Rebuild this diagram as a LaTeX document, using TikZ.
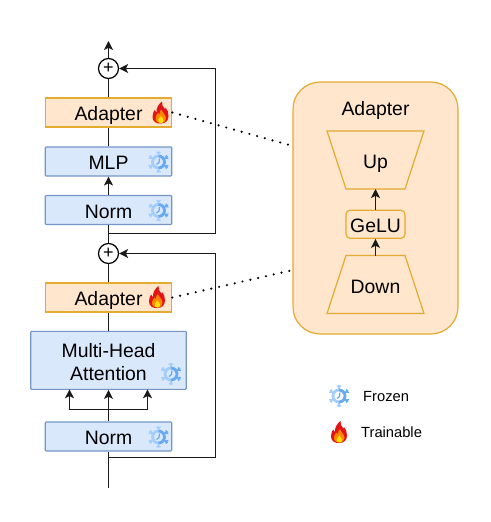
\documentclass[tikz,border=0pt]{standalone}
\usepackage{fontspec}
\setmainfont{Liberation Sans}
\usetikzlibrary{arrows.meta,positioning,calc}
\definecolor{bluefill}{HTML}{DAE8FC}
\definecolor{bluedraw}{HTML}{7396C6}
\definecolor{orfill}{HTML}{FFE6CC}
\definecolor{ordraw}{HTML}{E3AB30}
\definecolor{linecol}{HTML}{1A1A1A}
\definecolor{iceA}{HTML}{A3CDFB}
\definecolor{iceB}{HTML}{66A9F4}
\tikzset{
  x=1pt,y=-1pt,
  conn/.style={draw=linecol,line width=1.4pt},
  arr/.style={conn,-{Stealth[length=9pt,width=9pt,inset=2.2pt]}},
  lab/.style={font=\fontsize{19.4}{23.5}\selectfont,text=black,align=center,inner sep=0pt},
  small/.style={font=\fontsize{14.7}{17}\selectfont,text=black,inner sep=0pt},
  bluebox/.style={draw=bluedraw,fill=bluefill,line width=1.1pt,rounded corners=0.8pt,inner sep=0pt},
  orbox/.style={draw=ordraw,fill=orfill,line width=1.1pt,inner sep=0pt},
  plus/.style={circle,draw=black,fill=white,line width=1.2pt,minimum size=20pt,inner sep=0pt},
  dots/.style={draw=black,line width=2.4pt,line cap=round,dash pattern=on 0pt off 8pt},
  pics/flame/.style={code={
    \fill[red!88!black!92] (0.5,11) .. controls (-4,11.5) and (-8,9) .. (-8,4.5)
      .. controls (-8,1.5) and (-7,-0.5) .. (-6,-2.5) .. controls (-5.5,-1) and (-5,-0.5) .. (-4,0)
      .. controls (-4.5,-4) and (-2,-8.5) .. (1.5,-11) .. controls (1,-8) and (2.5,-6) .. (4,-4)
      .. controls (4.5,-3) and (5,-3) .. (5,-5) .. controls (7,-3) and (8,0) .. (8,3.5)
      .. controls (8,8) and (5,11) .. (0.5,11) -- cycle;
    \fill[orange!95!yellow] (0.5,10.5) .. controls (-3.5,10.5) and (-5.5,8) .. (-5,5)
      .. controls (-4.8,3) and (-3.5,2) .. (-2.5,0.5) .. controls (-2,1.5) and (-1.5,2) .. (-1,2)
      .. controls (-1.5,0) and (0,-2) .. (1,-3) .. controls (1.5,0) and (5.5,2) .. (5.5,6)
      .. controls (5.5,9) and (3.5,10.5) .. (0.5,10.5) -- cycle;
    \fill[yellow!85!orange] (0.5,10.5) .. controls (-2,10.5) and (-3,8.5) .. (-2,6.5)
      .. controls (-1.5,5.5) and (-0.5,5) .. (0.5,3.5) .. controls (1.5,5.5) and (3,6.5) .. (3,8)
      .. controls (3,9.8) and (2,10.5) .. (0.5,10.5) -- cycle;
  }},
  pics/frozen/.style={code={
    \foreach \a/\c in {90/iceA,150/iceA,210/iceA,270/iceA,330/iceB,30/iceB}{
      \draw[\c,line width=1.4pt] (\a:6) -- (\a:10.8);
      \draw[\c,line width=1.2pt] (\a:8) -- ++(\a+40:3);
      \draw[\c,line width=1.2pt] (\a:8) -- ++(\a-40:3);
    }
    \draw[iceA,line width=2.8pt] (90:6) arc[start angle=90,end angle=270,radius=6];
    \draw[iceB,line width=2.8pt] (90:6) arc[start angle=90,end angle=-90,radius=6];
    \draw[iceB,line width=1.2pt] (1,-3.5) -- (0.5,0.5) -- (-2,2.5);
  }}
}
\begin{document}
\begin{tikzpicture}
\useasboundingbox (0,0) rectangle (490,522);
% main stack
\node[orbox,minimum width=126.5pt,minimum height=29pt] (ad1) at (108.5,112.5) {};
\node[lab] at (108.5,115) {Adapter};
\node[bluebox,minimum width=126.5pt,minimum height=29pt] (mlp) at (108.5,161.5) {};
\node[lab] at (108.5,163) {MLP};
\node[bluebox,minimum width=126.5pt,minimum height=29pt] (norm1) at (108.5,210) {};
\node[lab] at (108.5,211.5) {Norm};
\node[plus] (p1) at (108.5,68.5) {};
\node[plus] (p2) at (108.5,253.5) {};
\node[font=\fontsize{18}{18}\selectfont,inner sep=0pt] at (108.5,68.5) {+};
\node[font=\fontsize{18}{18}\selectfont,inner sep=0pt] at (108.5,253.5) {+};
\node[orbox,minimum width=126.5pt,minimum height=29pt] (ad2) at (108.5,297.5) {};
\node[lab] at (108.5,300) {Adapter};
\node[bluebox,minimum width=155.5pt,minimum height=58pt] (mha) at (108.5,360.3) {};
\node[lab] at (108.5,362) {Multi-Head\\Attention};
\node[bluebox,minimum width=126.5pt,minimum height=29pt] (norm2) at (108.5,436.5) {};
\node[lab] at (108.5,438) {Norm};
% free ends and junctions
\coordinate (top) at (108.5,41);
\coordinate (bottom) at (108.5,488);
\coordinate (j1) at (108.5,233.5);
\coordinate (c1) at (215.5,233.5);
\coordinate (c1t) at (215.5,68.5);
\coordinate (j2) at (108.5,457.5);
\coordinate (c2) at (215.5,457.5);
\coordinate (c2t) at (215.5,253.5);
\coordinate (f0) at (108.5,409.5);
\coordinate (fl) at (69.5,409.5);
\coordinate (fr) at (147.5,409.5);
\coordinate (flt) at (69.5,389.3);
\coordinate (frt) at (147.5,389.3);
% vertical connectors
\draw[arr] (p1) -- (top);
\draw[conn] (ad1) -- (p1);
\draw[conn] (mlp) -- (ad1);
\draw[arr] (norm1) -- (mlp);
\draw[conn] (p2) -- (norm1);
\draw[conn] (ad2) -- (p2);
\draw[conn] (mha) -- (ad2);
\draw[arr] (norm2) -- (mha);
\draw[conn] (bottom) -- (norm2);
% residual loops
\draw[arr] (j1) -- (c1) -- (c1t) -- (p1);
\draw[arr] (j2) -- (c2) -- (c2t) -- (p2);
% split
\draw[arr] (f0) -- (fl) -- (flt);
\draw[arr] (f0) -- (fr) -- (frt);
% adapter panel
\node[draw=ordraw,fill=orfill,line width=1.2pt,rounded corners=27pt,minimum width=165pt,minimum height=252pt,inner sep=0pt] (panel) at (375.5,208) {};
\node[lab] (ptitle) at (375.5,110) {Adapter};
\path[draw=ordraw,line width=1.2pt] (327,131) -- (424,131) -- (405,189) -- (346,189) -- cycle;
\node[lab] (up) at (375.5,163.5) {Up};
\coordinate (upb) at (375.5,189);
\path[draw=ordraw,line width=1.2pt] (346,255.5) -- (405,255.5) -- (424,313.5) -- (327,313.5) -- cycle;
\node[lab] (down) at (375.5,287) {Down};
\coordinate (dnt) at (375.5,255.5);
\node[draw=ordraw,fill=orfill,line width=1.2pt,rounded corners=4pt,minimum width=59pt,minimum height=28pt,inner sep=0pt] (gelu) at (375.5,224.3) {};
\node[lab] at (375.5,225.5) {GeLU};
\draw[arr] (dnt) -- (gelu);
\draw[arr] (gelu) -- (upb);
% dotted links
\coordinate (pa) at (294,146.3);
\coordinate (pb) at (291,270.5);
\draw[dots] (ad1.east) -- (pa);
\draw[dots] (ad2.east) -- (pb);
% icons
\pic at (160.5,112.5) {flame};
\pic at (157,297) {flame};
\pic at (158.5,162) {frozen};
\pic at (158.5,210.5) {frozen};
\pic at (171,374) {frozen};
\pic at (158.5,437) {frozen};
\pic at (339,396) {frozen};
\pic at (339,432) {flame};
% legend
\node[small,anchor=west] (frz) at (363,396.5) {Frozen};
\node[small,anchor=west] (trn) at (361,432) {Trainable};
\end{tikzpicture}
\end{document}
